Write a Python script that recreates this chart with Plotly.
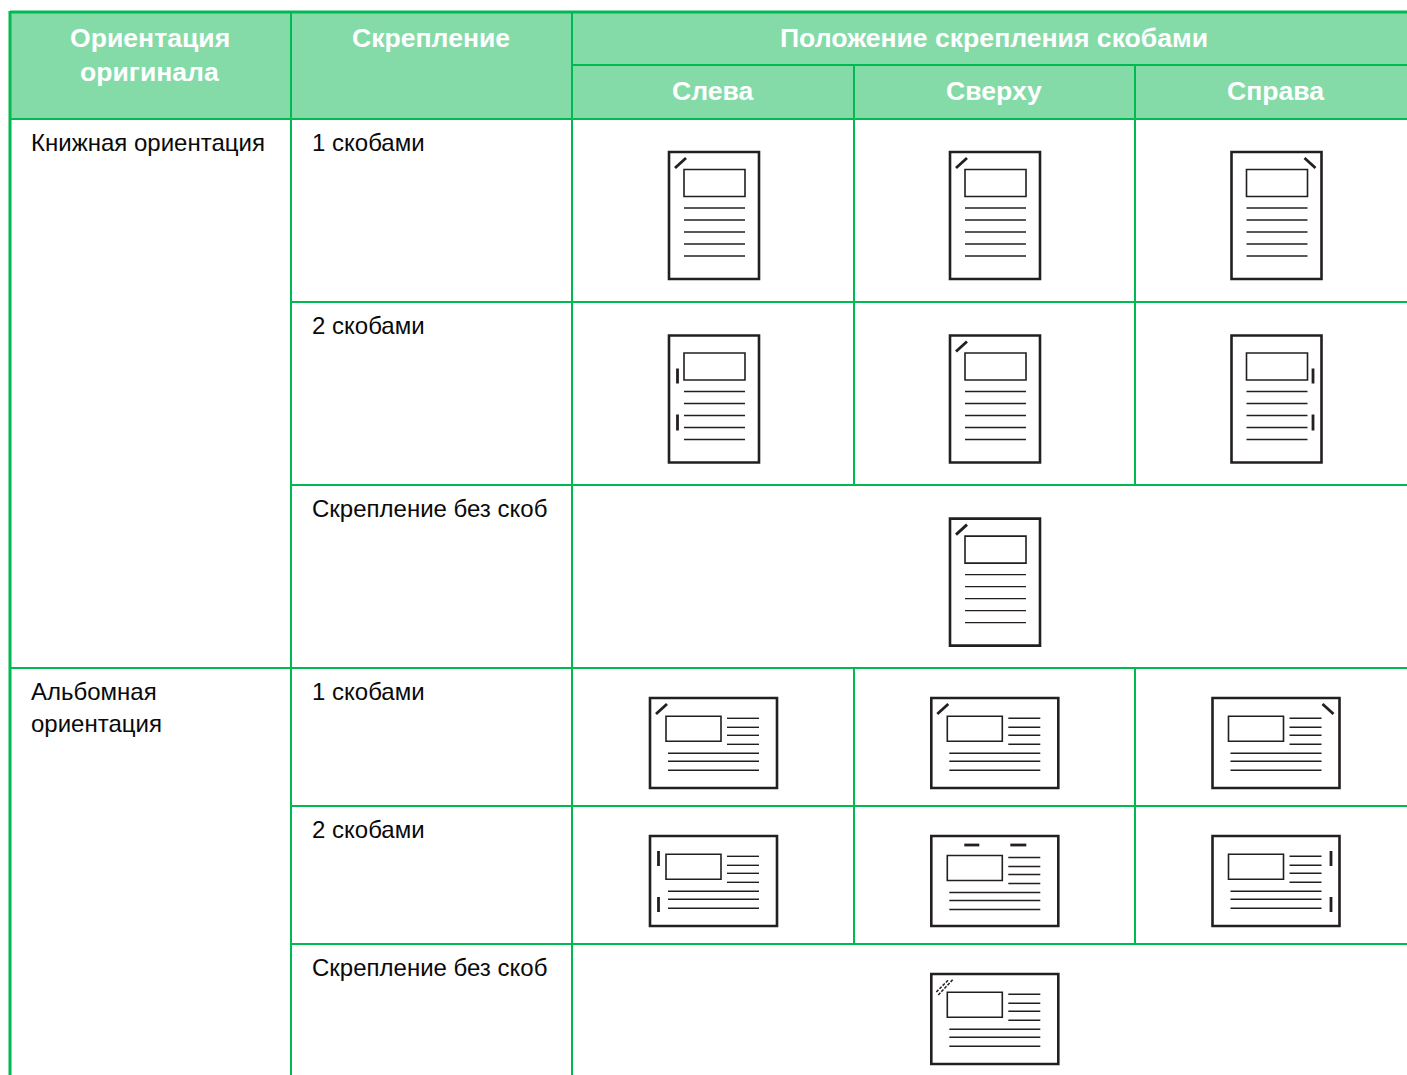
import plotly.graph_objects as go

W, H = 1407, 1075
GREEN = "#00b950"
HEAD = "#84dba8"
INK = "#231f20"
FONT = "Liberation Sans, Arial, sans-serif"

# ---- table text ----
header_labels = [("Ориентация", 149.7, 37.7), ("оригинала", 149.7, 71.7), ("Скрепление", 431, 37.7),
                 ("Положение скрепления скобами", 994, 37.7),
                 ("Слева", 713, 90.7), ("Сверху", 994, 90.7), ("Справа", 1275, 90.7)]
body_labels = [("Книжная ориентация", 30, 142), ("1 скобами", 311, 142), ("2 скобами", 311, 325),
               ("Скрепление без скоб", 311, 508), ("Альбомная", 30, 691), ("ориентация", 30, 723),
               ("1 скобами", 311, 691), ("2 скобами", 311, 829), ("Скрепление без скоб", 311, 967)]

# ---- table grid ----
h_rules = [(572, 65), (11, 119), (291, 302), (291, 485), (11, 668), (291, 806), (291, 944)]
v_rules = [(291, 13, 1075), (572, 13, 1075), (854, 65, 485), (854, 668, 944),
           (1135, 65, 485), (1135, 668, 944)]

# ---- page icons: (left, top) ----
portrait_icons = [(669, 152, "tl"), (950, 152, "tl"), (1231.5, 152, "tr"),
                  (669, 335.5, "l2"), (950, 335.5, "tl"), (1231.5, 335.5, "r2"),
                  (950, 518.6, "tl")]
landscape_icons = [(650, 698, "tl", 0.3), (931.3, 698, "tl", 0.3), (1212.5, 698, "tr", 0.3),
                   (650, 836, "l2", 0.3), (931.3, 836, "t2", 1.5), (1212.5, 836, "r2", 0.3),
                   (931.3, 974, "dash", 0.3)]
portrait_lines = [56, 68, 80, 92, 104]
landscape_short = [20, 29, 37, 46]
landscape_long = [55, 63, 72]

shapes = []
def line(x0, y0, x1, y1, w=1.5, color=INK, dash=None):
    s = dict(type="line", xref="x", yref="y", x0=x0, y0=y0, x1=x1, y1=y1,
             line=dict(color=color, width=w))
    if dash:
        s["line"]["dash"] = dash
    shapes.append(s)

def rect(x0, y0, x1, y1, w=1.5, fill=None, color=INK):
    s = dict(type="rect", xref="x", yref="y", x0=x0, y0=y0, x1=x1, y1=y1,
             line=dict(color=color, width=w))
    if fill:
        s["fillcolor"] = fill
    shapes.append(s)

# header fill
rect(10, 12, W + 5, 119, 0, HEAD, HEAD)
# grid
for x0, y in h_rules:
    line(x0, y, W + 5, y, 2, GREEN)
for x, y0, y1 in v_rules:
    line(x, y0, x, y1, 2, GREEN)
line(10, 12, W + 5, 12, 3, GREEN)
line(10, 11, 10, H + 5, 3, GREEN)

def staples(x0, y0, kind, pw, ph):
    if kind == "tl":
        line(x0 + 6, y0 + 16, x0 + 17, y0 + 6, 2.8)
    elif kind == "tr":
        line(x0 + pw - 17, y0 + 6, x0 + pw - 6, y0 + 16, 2.8)
    elif kind in ("l2", "r2"):
        x = x0 + (8.5 if kind == "l2" else pw - 8.5)
        for a, b in ((33, 48), (79, 95)) if ph > 100 else ((15, 30), (61, 76)):
            line(x, y0 + a, x, y0 + b, 2.8)
    elif kind == "t2":
        for a, b in ((33, 48), (79, 95)):
            line(x0 + a, y0 + 9, x0 + b, y0 + 9, 2.8)
    elif kind == "dash":
        line(x0 + 5, y0 + 18, x0 + 17, y0 + 6, 1.5, dash="3px,1.5px")
        line(x0 + 7, y0 + 21, x0 + 22, y0 + 5, 1.5, dash="3px,1.5px")

for x0, y0, kind in portrait_icons:
    rect(x0, y0, x0 + 90, y0 + 127, 2.6)
    rect(x0 + 15, y0 + 17.5, x0 + 76, y0 + 44.5, 1.6)
    for dy in portrait_lines:
        line(x0 + 15, y0 + dy, x0 + 76, y0 + dy, 1.4)
    staples(x0, y0, kind, 90, 127)

for x0, y0, kind, sh in landscape_icons:
    rect(x0, y0, x0 + 127, y0 + 90, 2.6)
    rect(x0 + 16, y0 + 18 + sh, x0 + 71, y0 + 43 + sh, 1.6)
    for dy in landscape_short:
        line(x0 + 77, y0 + dy + sh, x0 + 109, y0 + dy + sh, 1.4)
    for dy in landscape_long:
        line(x0 + 18, y0 + dy + sh, x0 + 109, y0 + dy + sh, 1.4)
    staples(x0, y0, kind, 127, 90)

annotations = []
for t, x, y in header_labels:
    annotations.append(dict(text=f"<b>{t}</b>", x=x, y=y, xref="x", yref="y", showarrow=False,
                            xanchor="center", yanchor="middle",
                            font=dict(family=FONT, size=26.6, color="white")))
for t, x, y in body_labels:
    annotations.append(dict(text=t, x=x, y=y, xref="x", yref="y", showarrow=False,
                            xanchor="left", yanchor="middle", borderpad=0,
                            font=dict(family=FONT, size=24, color="#0a0a0a")))

fig = go.Figure()
fig.update_layout(width=W, height=H, margin=dict(l=0, r=0, t=0, b=0),
                  paper_bgcolor="white", plot_bgcolor="white", showlegend=False,
                  shapes=shapes, annotations=annotations,
                  xaxis=dict(range=[0, W], visible=False, fixedrange=True),
                  yaxis=dict(range=[H, 0], visible=False, fixedrange=True))
fig.write_html("out.html", config={"displayModeBar": False},
               post_script="document.body.style.margin='0';document.body.style.overflow='hidden';")
